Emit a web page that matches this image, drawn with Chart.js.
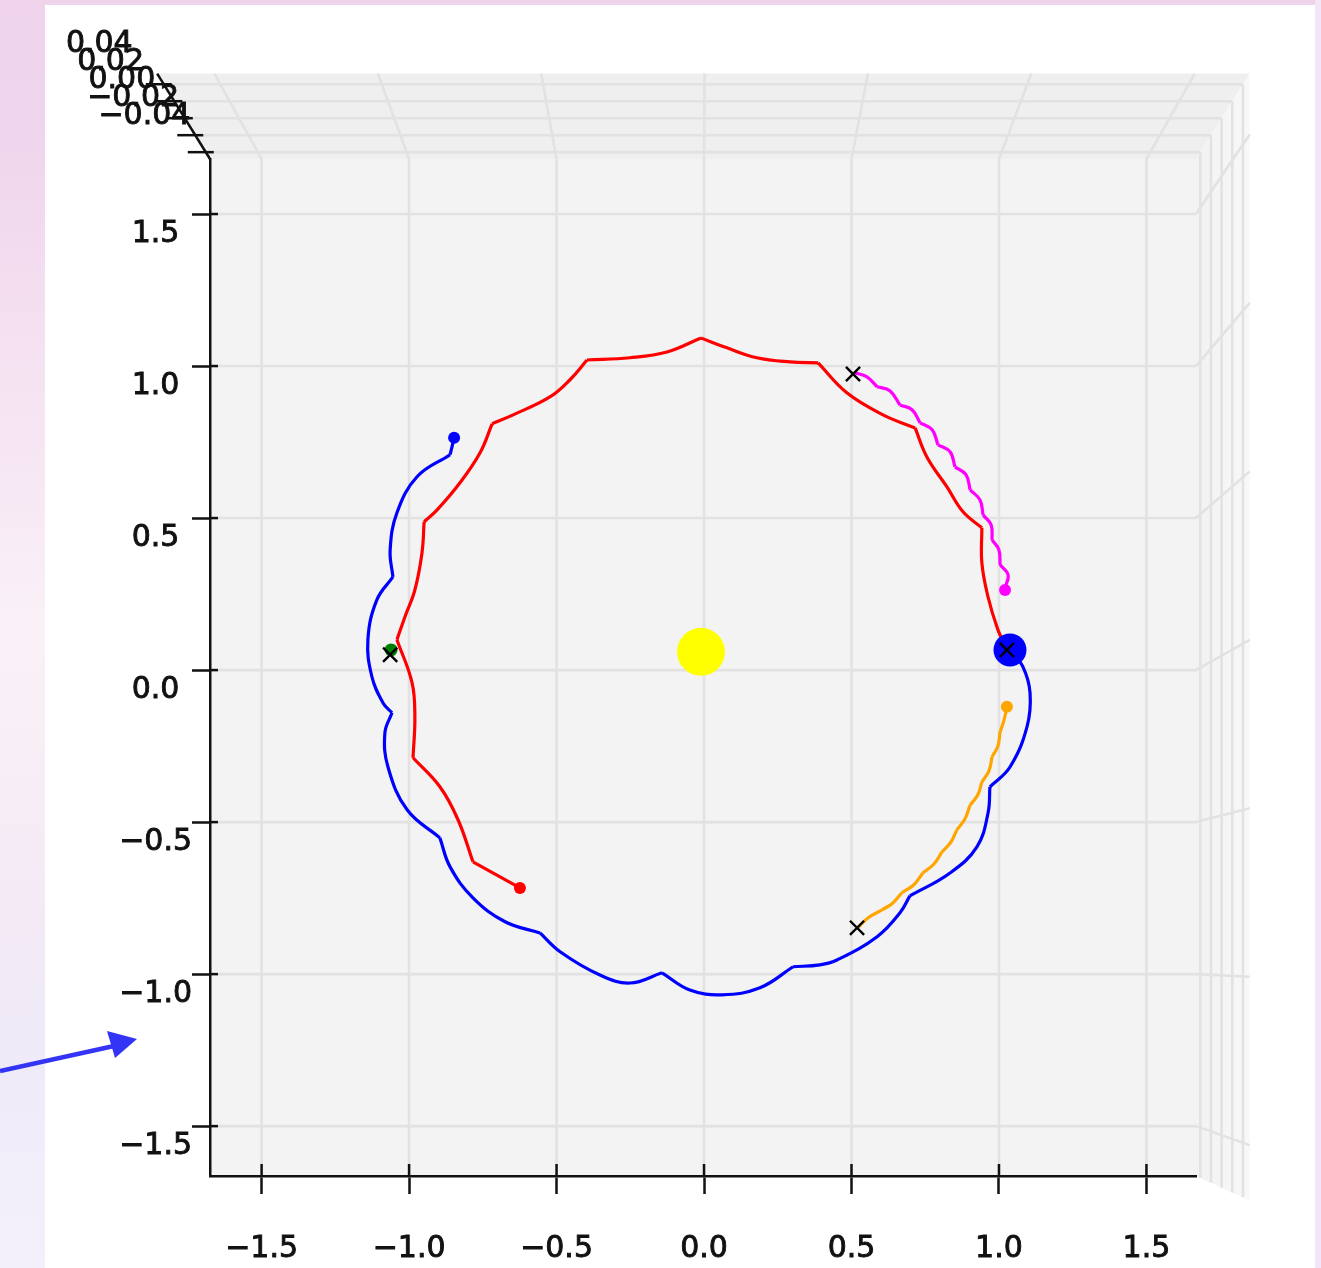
<!DOCTYPE html>
<html><head><meta charset="utf-8">
<script src="https://cdn.jsdelivr.net/npm/chart.js@4.4.1/dist/chart.umd.min.js"></script>
<style>
html,body{margin:0;padding:0;overflow:hidden;background:#fff;}
#wrap{position:absolute;left:0;top:0;width:1321px;height:1268px;}
</style></head><body><div id="wrap"><canvas id="c"></canvas></div>
<script>
// ---------- tick values / labels ----------
const xTickValues = [-1.5, -1.0, -0.5, 0.0, 0.5, 1.0, 1.5];
const xTickLabels = ['−1.5', '−1.0', '−0.5', '0.0', '0.5', '1.0', '1.5'];
const yTickValues = [-1.5, -1.0, -0.5, 0.0, 0.5, 1.0, 1.5];
const yTickLabels = ['−1.5', '−1.0', '−0.5', '0.0', '0.5', '1.0', '1.5'];
const zTickValues = [-0.04, -0.02, 0.00, 0.02, 0.04];
const zTickLabels = ['−0.04', '−0.02', '0.00', '0.02', '0.04'];

// ---------- trajectories (x, y), split at cusps ----------
const redArcs = [
  [[-0.586,-0.740],[-0.738,-0.658]],
  [[-0.738,-0.658],[-0.786,-0.527],[-0.845,-0.423],[-0.932,-0.332]],
  [[-0.932,-0.332],[-0.926,-0.204],[-0.935,-0.097],[-0.984,0.038]],
  [[-0.984,0.038],[-0.958,0.110],[-0.926,0.194],[-0.903,0.310],[-0.896,0.408]],
  [[-0.896,0.408],[-0.854,0.445],[-0.780,0.530],[-0.715,0.624],[-0.676,0.715]],
  [[-0.676,0.715],[-0.608,0.743],[-0.489,0.799],[-0.424,0.853],[-0.369,0.915]],
  [[-0.369,0.915],[-0.230,0.922],[-0.110,0.940],[0.000,0.984]],
  [[0.000,0.984],[0.084,0.953],[0.181,0.922],[0.288,0.909],[0.379,0.906]],
  [[0.379,0.906],[0.472,0.812],[0.589,0.743],[0.693,0.702]],
  [[0.693,0.702],[0.731,0.611],[0.796,0.517],[0.848,0.439],[0.909,0.389]],
  [[0.909,0.389],[0.909,0.279],[0.929,0.172],[0.961,0.069],[0.984,0.022]]
];
const blueArcs = [
  [[-0.799,0.671],[-0.812,0.618]],
  [[-0.812,0.618],[-0.919,0.549],[-0.984,0.436],[-1.006,0.320],[-0.997,0.235]],
  [[-0.997,0.235],[-1.049,0.163],[-1.078,0.038],[-1.065,-0.078],[-1.029,-0.160],[-1.000,-0.191]],
  [[-1.000,-0.191],[-1.023,-0.254],[-1.013,-0.361],[-0.951,-0.495],[-0.845,-0.583]],
  [[-0.845,-0.583],[-0.812,-0.674],[-0.738,-0.771],[-0.634,-0.846],[-0.521,-0.881]],
  [[-0.521,-0.881],[-0.456,-0.940],[-0.327,-1.013],[-0.230,-1.038],[-0.126,-1.006]],
  [[-0.126,-1.006],[-0.036,-1.060],[0.068,-1.075],[0.191,-1.053],[0.298,-0.987]],
  [[0.298,-0.987],[0.385,-0.981],[0.440,-0.966],[0.570,-0.893],[0.644,-0.818],[0.676,-0.765]],
  [[0.676,-0.765],[0.806,-0.693],[0.893,-0.611],[0.929,-0.505],[0.935,-0.423]],
  [[0.935,-0.423],[1.000,-0.361],[1.055,-0.235],[1.065,-0.129],[1.042,-0.047],[1.000,0.006]]
];
const magentaArcs = [
  [[0.498,0.875],[0.537,0.862],[0.570,0.831]],
  [[0.570,0.831],[0.612,0.818],[0.644,0.774]],
  [[0.644,0.774],[0.683,0.759],[0.709,0.718]],
  [[0.709,0.718],[0.748,0.696],[0.767,0.649]],
  [[0.767,0.649],[0.806,0.627],[0.822,0.580]],
  [[0.822,0.580],[0.858,0.555],[0.871,0.508]],
  [[0.871,0.508],[0.903,0.476],[0.913,0.429]],
  [[0.913,0.429],[0.939,0.398],[0.942,0.351]],
  [[0.942,0.351],[0.964,0.320],[0.968,0.273]],
  [[0.968,0.273],[0.994,0.241],[0.984,0.201]]
];
const orangeArcs = [
  [[0.508,-0.865],[0.540,-0.834],[0.586,-0.809]],
  [[0.586,-0.809],[0.621,-0.787],[0.650,-0.755]],
  [[0.650,-0.755],[0.689,-0.730],[0.718,-0.693]],
  [[0.718,-0.693],[0.754,-0.665],[0.780,-0.627]],
  [[0.780,-0.627],[0.809,-0.596],[0.828,-0.558]],
  [[0.828,-0.558],[0.854,-0.524],[0.871,-0.480]],
  [[0.871,-0.480],[0.896,-0.448],[0.909,-0.408]],
  [[0.909,-0.408],[0.932,-0.373],[0.942,-0.329]],
  [[0.942,-0.329],[0.961,-0.295],[0.968,-0.251]],
  [[0.968,-0.251],[0.981,-0.213],[0.990,-0.172]]
];

// ---------- markers ----------
const startMarks = [[0.492,0.871],[0.505,-0.865],[-1.006,-0.009],[0.990,0.006]];
const sunPos = [[0.0, 0.0]];
const earthPos = [[1.000, 0.006]];
const blueEnd = [[-0.799, 0.671]];
const redEnd = [[-0.586, -0.740]];
const magentaEnd = [[0.984, 0.194]];
const orangeEnd = [[0.990, -0.172]];
const greenPos = [[-1.003, 0.006]];

// ---------- build datasets ----------
const toXY = arr => arr.map(p => ({x: p[0], y: p[1]}));
const datasets = [];
function addMarker(pts, style, radius, color, order, bw) {
  datasets.push({data: toXY(pts), showLine: false, pointStyle: style, pointRadius: radius,
    pointHoverRadius: radius, backgroundColor: color, borderColor: color, borderWidth: bw || 0,
    order: order, xAxisID: 'xd', yAxisID: 'yd'});
}
addMarker(startMarks, 'crossRot', 10, '#000000', 0, 2.4);
addMarker(sunPos, 'circle', 24, '#ffff00', 1);
addMarker(earthPos, 'circle', 16.5, '#0000ff', 1);
addMarker(blueEnd, 'circle', 6, '#0000ff', 1);
addMarker(redEnd, 'circle', 6, '#ff0000', 1);
addMarker(magentaEnd, 'circle', 6, '#ff00ff', 1);
addMarker(orangeEnd, 'circle', 6, '#ffa500', 1);
addMarker(greenPos, 'circle', 6.5, '#008000', 1);
[[redArcs,'#ff0000'],[blueArcs,'#0000ff'],[magentaArcs,'#ff00ff'],[orangeArcs,'#ffa500']].forEach(([arcs,col]) => {
  arcs.forEach(arc => datasets.push({data: toXY(arc), showLine: true, borderColor: col,
    borderWidth: 3.2, pointRadius: 0, tension: 0.4, fill: false, order: 2,
    xAxisID: 'xd', yAxisID: 'yd'}));
});

// ---------- 3D box decoration ----------
const FONT = "30px 'DejaVu Sans'";
const box3d = {
  id: 'box3d',
  beforeDraw(chart) {
    const ctx = chart.ctx, a = chart.chartArea;
    ctx.save();
    // page background outside the figure
    const g = ctx.createLinearGradient(0, 0, 0, 1268);
    g.addColorStop(0, '#eed3ea'); g.addColorStop(0.12, '#f0d6ec'); g.addColorStop(0.2, '#f3dcef');
    g.addColorStop(0.35, '#f6e6f3'); g.addColorStop(0.5, '#faf1f8'); g.addColorStop(0.58, '#f8eef6');
    g.addColorStop(0.72, '#f4eaf6'); g.addColorStop(0.82, '#efeaf8'); g.addColorStop(1, '#f3f0fb');
    ctx.fillStyle = g; ctx.fillRect(0, 0, 1321, 1268);
    ctx.fillStyle = '#f2e6f8'; ctx.fillRect(1315, 0, 6, 1268);
    ctx.fillStyle = '#ffffff'; ctx.fillRect(45, 5, 1270, 1263);

    const cx = a.left + 0.496 * (a.right - a.left);
    const cy = a.top + 0.778 * (a.bottom - a.top);
    const S = 0.108;
    const P = (px, py, t) => { const s = 1 + S * t; return [cx + s * (px - cx), cy + s * (py - cy)]; };
    const zT = z => 0.08 + (z - zTickValues[0]) / (zTickValues[zTickValues.length-1] - zTickValues[0]) * 0.795;
    const poly = (pts, fill) => { ctx.beginPath(); ctx.moveTo(pts[0][0], pts[0][1]);
      for (let i = 1; i < pts.length; i++) ctx.lineTo(pts[i][0], pts[i][1]); ctx.closePath(); ctx.fillStyle = fill; ctx.fill(); };
    const line = (p, q) => { ctx.beginPath(); ctx.moveTo(p[0], p[1]); ctx.lineTo(q[0], q[1]); ctx.stroke(); };

    // panes
    poly([[a.left, a.top], [a.right, a.top], P(a.right, a.top, 1), P(a.left, a.top, 1)], '#efefef');
    const rg = ctx.createLinearGradient(a.right, 0, P(a.right, a.top, 1)[0], 0);
    rg.addColorStop(0, '#f2f2f2'); rg.addColorStop(1, '#f8f8f8');
    poly([[a.right, a.top], [a.right, a.bottom], P(a.right, a.bottom, 1), P(a.right, a.top, 1)], rg);
    ctx.fillStyle = '#f3f3f3'; ctx.fillRect(a.left, a.top, a.right - a.left, a.bottom - a.top);

    // grid
    ctx.strokeStyle = '#e2e2e2'; ctx.lineWidth = 2.6;
    const sx = chart.scales.x, sy = chart.scales.y;
    xTickValues.forEach(v => { const X = sx.getPixelForValue(v);
      line([X, a.bottom], [X, a.top]); line([X, a.top], P(X, a.top, 1)); });
    yTickValues.forEach(v => { const Y = sy.getPixelForValue(v);
      line([a.left, Y], [a.right, Y]); line([a.right, Y], P(a.right, Y, 1)); });
    zTickValues.forEach(z => { const t = zT(z);
      line(P(a.left, a.top, t), P(a.right, a.top, t)); line(P(a.right, a.top, t), P(a.right, a.bottom, t)); });

    // inward halves of axis ticks
    ctx.strokeStyle = '#111'; ctx.lineWidth = 2.5;
    xTickValues.forEach(v => { const X = sx.getPixelForValue(v); line([X, a.bottom], [X, a.bottom - 12]); });
    yTickValues.forEach(v => { const Y = sy.getPixelForValue(v); line([a.left, Y], [a.left + 8, Y]); });

    // z axis
    line([a.left, a.top], P(a.left, a.top, 1));
    ctx.font = FONT; ctx.fillStyle = '#111'; ctx.textAlign = 'center'; ctx.textBaseline = 'middle';
    ctx.lineWidth = 0.9; ctx.strokeStyle = '#111';
    zTickValues.forEach((z, i) => { const t = zT(z); const p = P(a.left, a.top, t);
      ctx.lineWidth = 2.5; line([p[0] - 18, p[1]], [p[0] + 8, p[1]]);
      const lx = p[0] - 61 - 4 * t, ly = p[1] - 35 - 6 * t;
      ctx.fillText(zTickLabels[i], lx, ly);
      ctx.lineWidth = 0.9; ctx.strokeText(zTickLabels[i], lx, ly); });
    ctx.restore();
  },
  afterDraw(chart) {
    const ctx = chart.ctx;
    ctx.save();
    ctx.strokeStyle = '#3434f6'; ctx.fillStyle = '#3434f6'; ctx.lineWidth = 4.5;
    ctx.beginPath(); ctx.moveTo(0, 1071); ctx.lineTo(114, 1046); ctx.stroke();
    ctx.beginPath(); ctx.moveTo(137, 1039); ctx.lineTo(107, 1031); ctx.lineTo(115, 1058); ctx.closePath(); ctx.fill();
    ctx.restore();
  }
};

Chart.defaults.font.family = "'DejaVu Sans'";
new Chart(document.getElementById('c'), {
  type: 'scatter',
  data: {datasets},
  plugins: [box3d],
  options: {
    responsive: true, maintainAspectRatio: false, animation: false, events: [],
    layout: {padding: {left: 0, top: 159, right: 125, bottom: 0}},
    plugins: {legend: {display: false}, tooltip: {enabled: false}},
    scales: {
      x: {type: 'linear', position: 'bottom', min: -1.675, max: 1.668,
        afterBuildTicks: s => { s.ticks = xTickValues.map(v => ({value: v})); },
        afterFit: s => { s.height = 92; },
        ticks: {callback: (v, i) => xTickLabels[i], font: {size: 30}, color: '#111', padding: 37,
          maxRotation: 0, autoSkip: false, textStrokeColor: '#111', textStrokeWidth: 0.9},
        grid: {drawOnChartArea: false, tickLength: 18, tickColor: '#111', tickWidth: 2.5},
        border: {color: '#111', width: 2.5}},
      y: {type: 'linear', position: 'left', min: -1.664, max: 1.681,
        afterBuildTicks: s => { s.ticks = yTickValues.map(v => ({value: v})); },
        afterFit: s => { s.width = 210; },
        ticks: {callback: (v, i) => yTickLabels[i], font: {size: 30}, color: '#111', padding: 0,
          crossAlign: 'center', labelOffset: 20, autoSkip: false, textStrokeColor: '#111', textStrokeWidth: 0.9},
        grid: {drawOnChartArea: false, tickLength: 18, tickColor: '#111', tickWidth: 2.5},
        border: {color: '#111', width: 2.5}},
      xd: {type: 'linear', display: false, min: -1.589, max: 1.602},
      yd: {type: 'linear', display: false, min: -1.643, max: 1.545}
    }
  }
});
</script></body></html>
